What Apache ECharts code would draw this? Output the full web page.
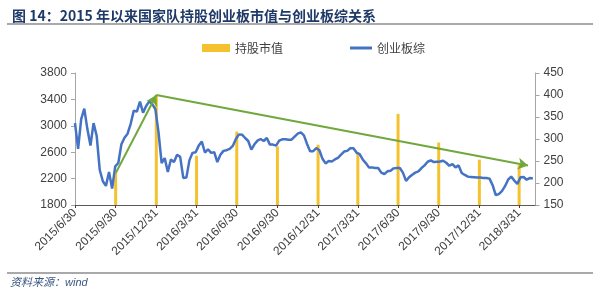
<!DOCTYPE html>
<html>
<head>
<meta charset="utf-8">
<script src="https://cdn.jsdelivr.net/npm/echarts@6/dist/echarts.min.js"></script>
<style>
html,body{margin:0;padding:0;background:#fff;}
#chart{width:600px;height:294px;}
</style>
</head>
<body>
<div id="chart"></div>
<script>
// ---- data ----
var quarterLabels = ['2015/6/30','2015/9/30','2015/12/31','2016/3/31','2016/6/30','2016/9/30','2016/12/31','2017/3/31','2017/6/30','2017/9/30','2017/12/31','2018/3/31'];
var holdingDates = ['2015/9/30','2015/12/31','2016/3/31','2016/6/30','2016/9/30','2016/12/31','2017/3/31','2017/6/30','2017/9/30','2017/12/31','2018/3/31'];
var holdingValues = [222, 400, 262, 317, 283, 287, 268, 357, 292, 253, 241];
// 创业板综, weekly from 2015/6/30
var indexStart = '2015/6/30';
var indexValues = [
 3040,2650,3100,3260,2950,2700,3040,2850,2330,2160,
 2090,2300,2050,2385,2436,2720,2820,2880,3030,3230,
 3215,3365,3200,3300,3370,3330,3250,2900,2436,2510,
 2300,2490,2450,2560,2530,2210,2215,2480,2590,2600,
 2700,2760,2595,2645,2590,2600,2450,2560,2620,2630,
 2650,2695,2800,2870,2865,2815,2770,2640,2720,2775,
 2800,2770,2815,2715,2715,2700,2775,2795,2795,2790,
 2790,2835,2880,2900,2855,2725,2615,2615,2663,2630,
 2500,2430,2465,2460,2490,2515,2562,2610,2620,2660,
 2660,2595,2570,2490,2435,2370,2370,2360,2360,2290,
 2270,2310,2320,2355,2360,2360,2290,2165,2220,2259,
 2290,2309,2360,2400,2455,2475,2450,2455,2460,2470,
 2440,2395,2420,2370,2400,2284,2255,2230,2225,2220,
 2215,2215,2210,2210,2200,2100,1950,1965,2010,2085,
 2183,2230,2170,2120,2220,2225,2183,2208,2200
];
var trendPoints = [['2015/9/30', 222], ['2015/12/31', 400], ['2018/4/20', 240]];
var xMin = '2015/6/30', xMax = '2018/5/7';
var leftTicks = [1800, 3800, 400];
var rightTicks = [150, 450, 50];

// ---- helpers ----
function ts(s){ var p = s.split('/'); return new Date(+p[0], +p[1]-1, +p[2]).getTime(); }
var startP = indexStart.split('/');
var indexData = indexValues.map(function(v, i){
  return [new Date(+startP[0], +startP[1]-1, +startP[2] + 7*i).getTime(), v];
});
var barData = holdingDates.map(function(d, i){ return [ts(d), holdingValues[i]]; });
var quarterTs = quarterLabels.map(ts);
var labelMap = {};
quarterLabels.forEach(function(l){ labelMap[ts(l)] = l; });

var chart = echarts.init(document.getElementById('chart'), null, {renderer:'canvas'});
var font = '"Liberation Sans", Arial, "Noto Sans CJK SC", sans-serif';
var legendText = { fontSize: 12, color: '#404040', fontFamily: '"Noto Sans CJK SC", sans-serif' };
var option = {
  animation: false,
  backgroundColor: '#fff',
  textStyle: { fontFamily: font },
  title: {
    text: '图 14：2015 年以来国家队持股创业板市值与创业板综关系',
    left: 7, top: 4,
    textStyle: { fontSize: 14, fontWeight: 'bold', color: '#1f3a68', fontFamily: '"Noto Sans CJK SC", sans-serif' }
  },
  legend: [
    {
      left: 197, top: 37,
      itemWidth: 28, itemHeight: 8,
      textStyle: legendText,
      data: [{name:'持股市值', icon:'rect'}]
    },
    {
      left: 345, top: 37,
      itemWidth: 22, itemHeight: 3,
      textStyle: legendText,
      data: [{name:'创业板综', icon:'rect'}]
    }
  ],
  grid: { left: 75, right: 64.5, top: 73, bottom: 89, containLabel: false },
  xAxis: {
    type: 'value',
    min: ts(xMin), max: ts(xMax),
    axisLine: { show: true, lineStyle: { color: '#595959', width: 1 } },
    axisTick: { show: true, customValues: quarterTs, length: 3, lineStyle: { color: '#404040' } },
    splitLine: { show: false },
    axisLabel: {
      customValues: quarterTs,
      rotate: 45, fontSize: 12, color: '#404040', margin: 6,
      formatter: function(v){ return labelMap[v] || ''; }
    }
  },
  yAxis: [
    {
      type: 'value', min: leftTicks[0], max: leftTicks[1], interval: leftTicks[2],
      axisLine: { show: true, lineStyle: { color: '#a6a6a6' } },
      axisTick: { show: true, length: 4, lineStyle: { color: '#a6a6a6' } },
      splitLine: { show: false },
      axisLabel: { fontSize: 12, color: '#404040', margin: 8, formatter: function(v){ return String(v); } }
    },
    {
      type: 'value', min: rightTicks[0], max: rightTicks[1], interval: rightTicks[2],
      position: 'right',
      axisLine: { show: true, lineStyle: { color: '#a6a6a6' } },
      axisTick: { show: true, length: 4, lineStyle: { color: '#a6a6a6' } },
      splitLine: { show: false },
      axisLabel: { fontSize: 12, color: '#404040', margin: 8, formatter: function(v){ return String(v); } }
    }
  ],
  series: [
    {
      name: '持股市值', type: 'bar', yAxisIndex: 1,
      barWidth: 3,
      itemStyle: { color: '#f5c22e' },
      data: barData,
      markLine: {
        silent: true, z: 10,
        symbol: ['none', 'arrow'], symbolSize: [9, 10],
        label: { show: false },
        lineStyle: { color: '#70a83b', width: 2, type: 'solid' },
        data: [
          [{coord: [ts(trendPoints[0][0]), trendPoints[0][1]]}, {coord: [ts(trendPoints[1][0]), trendPoints[1][1]]}],
          [{coord: [ts(trendPoints[1][0]), trendPoints[1][1]]}, {coord: [ts(trendPoints[2][0]), trendPoints[2][1]]}]
        ]
      }
    },
    {
      name: '创业板综', type: 'line', yAxisIndex: 0,
      symbol: 'none', smooth: false,
      lineStyle: { color: '#4472c4', width: 2.5 },
      itemStyle: { color: '#4472c4' },
      data: indexData
    }
  ],
  graphic: [
    { type: 'line', shape: { x1: 7, y1: 24, x2: 593, y2: 24 }, style: { stroke: '#8c8c8c', lineWidth: 1.5 } },
    { type: 'line', shape: { x1: 7, y1: 273, x2: 593, y2: 273 }, style: { stroke: '#8c8c8c', lineWidth: 1.5 } },
    { type: 'text', left: 10, top: 277, style: { text: '资料来源：wind', fill: '#3a5580', font: 'italic 11px "Liberation Sans", "Noto Sans CJK SC", sans-serif' } }
  ]
};
chart.setOption(option);
</script>
</body>
</html>
